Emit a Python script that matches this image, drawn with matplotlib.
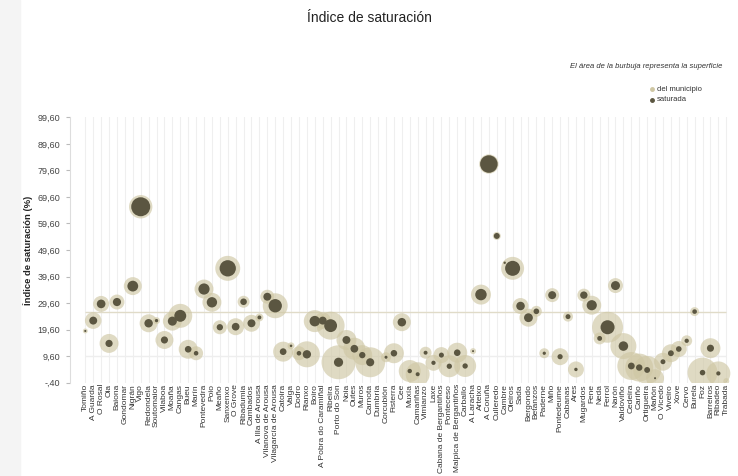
import numpy as np
import matplotlib
matplotlib.use("Agg")
import matplotlib.pyplot as plt
from matplotlib.lines import Line2D
from matplotlib.patches import Rectangle

plt.rcParams['font.family'] = ['Liberation Sans', 'DejaVu Sans']

# municipios da costa (orde do gráfico)
municipios = [
    "Tomiño", "A Guarda", "O Rosal", "Oia", "Baiona", "Gondomar", "Nigrán", "Vigo",
    "Redondela", "Soutomaior", "Vilaboa", "Moaña", "Cangas", "Bueu", "Marín",
    "Pontevedra", "Poio", "Meaño", "Sanxenxo", "O Grove", "Ribadumia", "Cambados",
    "A Illa de Arousa", "Vilanova de Arousa", "Vilagarcía de Arousa", "Catoira",
    "Valga", "Dodro", "Rianxo", "Boiro", "A Pobra do Caramiñal", "Ribeira",
    "Porto do Son", "Noia", "Outes", "Muros", "Carnota", "Dumbría", "Corcubión",
    "Fisterra", "Cee", "Muxía", "Camariñas", "Vimianzo", "Laxe",
    "Cabana de Bergantiños", "Ponteceso", "Malpica de Bergantiños", "Carballo",
    "A Laracha", "Arteixo", "A Coruña", "Culleredo", "Cambre", "Oleiros", "Sada",
    "Bergondo", "Betanzos", "Paderne", "Miño", "Pontedeume", "Cabanas", "Ares",
    "Mugardos", "Fene", "Neda", "Ferrol", "Narón", "Valdoviño", "Cedeira", "Cariño",
    "Ortigueira", "Mañón", "O Vicedo", "Viveiro", "Xove", "Cervo", "Burela", "Foz",
    "Barreiros", "Ribadeo", "Trabada",
]

# índice de saturación (%)
indice = [
    19.1, 23.0, 29.3, 14.4, 30.0, np.nan, 36.0, 65.9,
    22.0, 23.0, 15.7, 22.8, 24.8, 12.2, 10.7,
    34.9, 29.9, 20.5, 42.7, 20.7, 30.1, 22.0,
    24.2, 32.0, 28.6, 11.3,
    13.5, 10.7, 10.3, 22.8, 23.0, 21.1,
    7.3, 15.7, 12.4, 10.0, 7.3, np.nan, 9.2,
    10.7, 22.4, 4.0, 2.8, 10.9, 7.1,
    10.0, 5.8, 10.9, 5.9,
    11.5, 32.8, 82.0, 54.9, 44.8, 42.7, 28.5,
    24.1, 26.5, 10.7, 32.6, 9.4, 24.5, 4.6,
    32.6, 28.8, 16.3, 20.5, 36.2, 13.4, 5.9, 5.3,
    4.4, 1.3, 7.5, 10.7, 12.3, 15.4, 26.4, 3.4,
    12.6, 3.1, 0.2,
]

# superficie do municipio (unidades relativas)
superficie = [
    6, 69, 64, 90, 56, 0, 81, 137,
    81, 12, 81, 90, 144, 90, 49,
    90, 90, 49, 156, 72, 36, 72,
    16, 49, 156, 100,
    12, 49, 169, 121, 69, 196,
    289, 100, 121, 100, 225, 0, 25,
    100, 81, 121, 144, 36, 64,
    64, 121, 100, 121,
    9, 100, 94, 16, 3, 132, 64,
    81, 30, 25, 49, 72, 25, 64,
    42, 90, 36, 240, 56, 169, 196, 196,
    196, 81, 81, 81, 64, 30, 20, 225,
    100, 144, 9,
]

media = 26.4
yticks = [-0.4, 9.6, 19.6, 29.6, 39.6, 49.6, 59.6, 69.6, 79.6, 89.6, 99.6]
ytick_labels = ["-,40", "9,60", "19,60", "29,60", "39,60", "49,60",
                "59,60", "69,60", "79,60", "89,60", "99,60"]

col_mun = "#cfc7a4"
col_sat = "#5b5641"
escala = 2.07

x = np.arange(len(municipios))
ind = np.array(indice, dtype=float)
sup = np.array(superficie, dtype=float)
saturada = sup * np.nan_to_num(ind) / 100.0

fig = plt.figure(figsize=(7.38, 4.76), dpi=100)
fig.patches.append(Rectangle((0, 0), 0.027, 1, transform=fig.transFigure,
                             color="#f4f4f4", zorder=0))
ax = fig.add_axes([0.0949, 0.196, 0.901, 0.5575])

for xi in x:
    ax.axvline(xi, color="#efefef", lw=0.8, zorder=0)
ax.hlines(media, x[0], x[-1], color="#e0dbc8", lw=1.0, zorder=1)
ax.hlines(9.6, x[0], x[-1], color="#eeeeee", lw=1.0, zorder=1)

ax.scatter(x, ind, s=sup * escala, color=col_mun, alpha=0.65,
           edgecolors="none", zorder=2)
ax.scatter(x, ind, s=saturada * escala, color=col_sat,
           edgecolors="none", zorder=3)

ax.set_xlim(-1.93, 82.1)
ax.set_ylim(-0.4, 99.6)
ax.set_xticks(x)
ax.set_xticklabels(municipios, rotation=90, fontsize=6, color="#333333")
ax.tick_params(axis="x", length=0, pad=1)
ax.set_yticks(yticks)
ax.set_yticklabels(ytick_labels, fontsize=6.5, color="#444444")
ax.tick_params(axis="y", length=3, color="#bbbbbb", pad=4)
for side in ["top", "right", "bottom"]:
    ax.spines[side].set_visible(False)
ax.spines["left"].set_color("#dddddd")
ax.set_ylabel("Índice de saturación (%)", fontsize=6.8, fontweight="bold",
              color="#222222")
ax.yaxis.set_label_coords(-0.056, 0.5)

fig.text(0.5, 0.963, "Índice de saturación", ha="center", va="center",
         fontsize=10, color="#222222")
fig.text(0.979, 0.861, "El área de la burbuja representa la superficie",
         ha="right", va="center", fontsize=5.5, style="italic", color="#333333")
fig.add_artist(Line2D([0.884], [0.813], marker="o", markersize=2.5,
                      color=col_mun, transform=fig.transFigure))
fig.add_artist(Line2D([0.884], [0.790], marker="o", markersize=2.5,
                      color=col_sat, transform=fig.transFigure))
fig.text(0.890, 0.813, "del municipio", ha="left", va="center",
         fontsize=5.5, color="#333333")
fig.text(0.890, 0.790, "saturada", ha="left", va="center",
         fontsize=5.5, color="#333333")

fig.savefig("out.png", dpi=100)
